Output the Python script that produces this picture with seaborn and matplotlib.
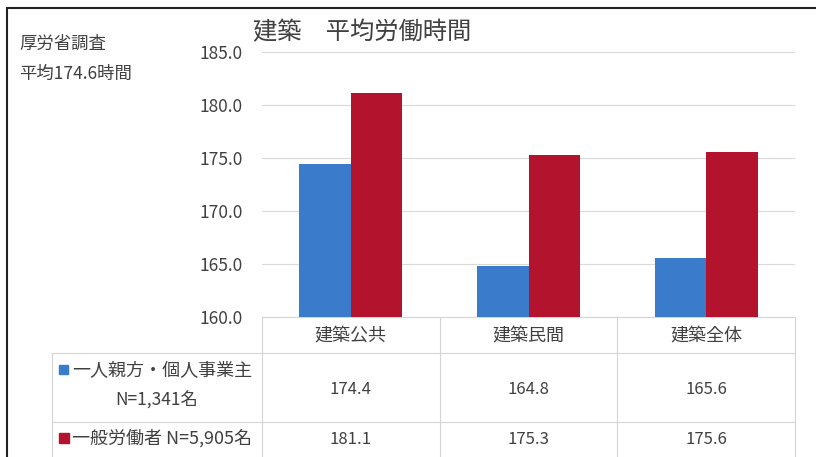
import matplotlib
matplotlib.use("Agg")
import matplotlib.pyplot as plt
import matplotlib.transforms as mtransforms
from matplotlib.lines import Line2D
from matplotlib.patches import Rectangle
import pandas as pd
import seaborn as sns

# ---- data ----
categories = ["建築公共", "建築民間", "建築全体"]
series_names = ["一人親方・個人事業主", "一般労働者"]
owner_hours = [174.4, 164.8, 165.6]
worker_hours = [181.1, 175.3, 175.6]
owner_label = ["一人親方・個人事業主", "N=1,341名"]
worker_label = "一般労働者 N=5,905名"
y_ticks = [160, 165, 170, 175, 180, 185]
title = "建築　平均労働時間"
note_lines = ["厚労省調査", "平均174.6時間"]
colors = ["#3a7ccb", "#b3132c"]

sns.set_theme(style="white")
plt.rcParams["font.family"] = ["Noto Sans CJK JP", "DejaVu Sans"]

TEXT = "#404040"
GRID = "#d9d9d9"
W, H = 816, 457
fig = plt.figure(figsize=(W / 100, H / 100), dpi=100)
fig.patch.set_facecolor("white")

# full-figure overlay in pixel units (y downwards) for the table and frame
ov = fig.add_axes([0, 0, 1, 1])
ov.set_xlim(0, W)
ov.set_ylim(H, 0)
ov.axis("off")

# bar chart area
ax = fig.add_axes([262 / W, 1 - 317 / H, (795 - 262) / W, (317 - 52) / H])
df = pd.DataFrame({
    "category": categories * 2,
    "series": [series_names[0]] * len(categories) + [series_names[1]] * len(categories),
    "hours": owner_hours + worker_hours,
})
sns.barplot(data=df, x="category", y="hours", hue="series", palette=colors,
            width=0.58, saturation=1, errorbar=None, legend=False, ax=ax,
            linewidth=0, edgecolor="none")
ax.set_xlim(-0.5, len(categories) - 0.5)
ax.set_ylim(y_ticks[0], y_ticks[-1])
ax.set_yticks(y_ticks)
ax.set_yticklabels([f"{v:.1f}" for v in y_ticks])
ax.set_xticks([])
ax.set_xlabel("")
ax.set_ylabel("")
ax.tick_params(axis="y", length=0, pad=14, labelsize=12.5, labelcolor=TEXT)
ax.yaxis.grid(True, color=GRID, lw=0.8)
ax.set_axisbelow(True)
ax.patch.set_alpha(0)
for s in ax.spines.values():
    s.set_visible(False)

# data table under the bars: x follows the category axis, y in pixels
trans = mtransforms.blended_transform_factory(ax.transData, ov.transData)
line_kw = dict(color="#d4d4d4", lw=0.8)
n = len(categories)
ov.add_line(Line2D([-0.5, n - 0.5], [317, 317], transform=trans, **line_kw))
for b in range(n + 1):
    ov.add_line(Line2D([b - 0.5, b - 0.5], [317, H], transform=trans, **line_kw))
for yy in (353, 422):
    ov.add_line(Line2D([52, 795], [yy, yy], **line_kw))
ov.add_line(Line2D([52, 52], [353, H], **line_kw))

for i, cat in enumerate(categories):
    ov.text(i, 336, cat, transform=trans, ha="center", va="center",
            fontsize=13, color=TEXT)
    ov.text(i, 389, f"{owner_hours[i]:.1f}", transform=trans, ha="center",
            va="center", fontsize=12, color=TEXT)
    ov.text(i, 439, f"{worker_hours[i]:.1f}", transform=trans, ha="center",
            va="center", fontsize=12, color=TEXT)

# row headers with colour keys
ov.add_patch(Rectangle((59, 365), 9, 9, color=colors[0]))
ov.text(72, 370, owner_label[0], ha="left", va="center", fontsize=13, color=TEXT)
ov.text(157, 401, owner_label[1], ha="center", va="center", fontsize=12.5, color=TEXT)
ov.add_patch(Rectangle((59, 433), 10, 10, color=colors[1]))
ov.text(72, 438, worker_label, ha="left", va="center", fontsize=13, color=TEXT)

# title and note
ov.text(253, 32, title, ha="left", va="center", fontsize=17.5, color=TEXT)
ov.text(19, 44, note_lines[0], ha="left", va="center", fontsize=12.5, color=TEXT)
ov.text(19, 74, note_lines[1], ha="left", va="center", fontsize=12.5, color=TEXT)

# outer frame (top and left edges)
ov.add_line(Line2D([7, W], [8, 8], color="#222222", lw=1.5))
ov.add_line(Line2D([7, 7], [8, H], color="#222222", lw=1.5))

fig.savefig("out.png", dpi=100, facecolor="white")
